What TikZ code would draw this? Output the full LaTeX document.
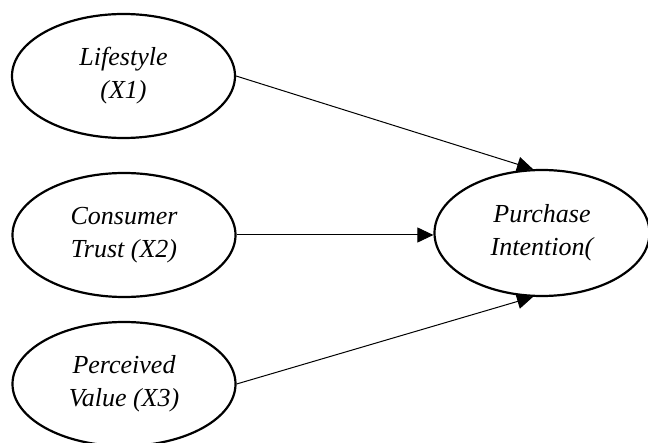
\documentclass[tikz,border=0pt]{standalone}
\usepackage{fontspec}
\setmainfont{Liberation Serif}
\usetikzlibrary{shapes.geometric, arrows.meta}

\begin{document}
\begin{tikzpicture}[x=0.5pt, y=-0.5pt,
    var/.style={draw, line width=1.1pt, ellipse, inner sep=0pt,
        minimum width=111.5pt, minimum height=62pt, align=center,
        font=\itshape\fontsize{13}{16.5}\selectfont},
    link/.style={line width=0.5pt, -{Triangle[length=8pt, width=7.5pt]}}]
    \useasboundingbox (0, 0) rectangle (648, 443);
    \node[var] (ls) at (123.5, 76) {Lifestyle\\(X1)};
    \node[var] (ct) at (124, 235) {Consumer\\Trust (X2)};
    \node[var] (pv) at (124, 384) {Perceived\\Value (X3)};
    \node[var, minimum width=107.5pt, minimum height=63pt] (pi) at (542, 233) {Purchase\\Intention(};
    \draw[link] (ls.east) -- (pi.98);
    \draw[link] (ct.east) -- (ct.east -| pi.west);
    \draw[link] (pv.east) -- (pi.262);
\end{tikzpicture}
\end{document}
